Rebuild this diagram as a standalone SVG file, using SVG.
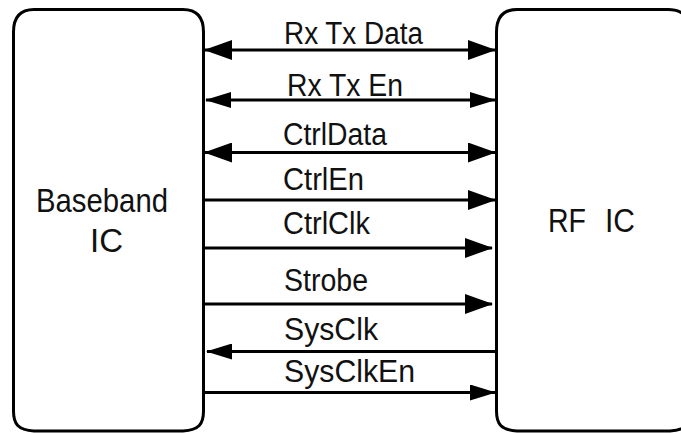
<svg xmlns="http://www.w3.org/2000/svg" width="681" height="433" viewBox="0 0 681 433">
  <style>
    .box { fill: #ffffff; stroke: #000000; stroke-width: 3; }
    .wire { stroke: #000000; stroke-width: 3; fill: none; }
    .lbl { font-family: "Liberation Sans", Arial, sans-serif; font-size: 31px; fill: #111111; }
    .name { font-family: "Liberation Sans", Arial, sans-serif; font-size: 33px; fill: #111111; }
  </style>
  <defs>
    <marker id="head" markerUnits="userSpaceOnUse" markerWidth="28" markerHeight="20" refX="27" refY="10" orient="auto-start-reverse">
      <path d="M0,0 L28,10 L0,20 Z" fill="#000000"/>
    </marker>
    <marker id="headSmall" markerUnits="userSpaceOnUse" markerWidth="26" markerHeight="16" refX="25" refY="8" orient="auto-start-reverse">
      <path d="M0,0 L26,8 L0,16 Z" fill="#000000"/>
    </marker>
  </defs>

  <!-- Baseband IC block -->
  <g id="baseband">
    <path class="box" d="M13.5,32 C13.5,17 20,9.5 34,9.5 L183,9.5 C197,9.5 203.5,17 203.5,32 L203.5,411 C203.5,424 199,430 183,431 L34,431 C18,430 13.5,424 13.5,411 Z"/>
    <text class="name" x="36" y="212" textLength="132" lengthAdjust="spacingAndGlyphs">Baseband</text>
    <text class="name" x="90" y="252" textLength="33" lengthAdjust="spacingAndGlyphs">IC</text>
  </g>

  <!-- RF IC block (extends past the right edge) -->
  <g id="rfic">
    <path class="box" d="M496.5,32 C496.5,17 503,9.5 517,9.5 L668,9.5 C682,9.5 690,17 690,32 L690,411 C690,424 686,430 670,431 L517,431 C501,430 496.5,424 496.5,411 Z"/>
    <text class="name" x="548" y="232" textLength="38" lengthAdjust="spacingAndGlyphs">RF</text>
    <text class="name" x="605" y="232" textLength="30" lengthAdjust="spacingAndGlyphs">IC</text>
  </g>

  <!-- Signal connectors -->
  <g id="connectors">
    <line class="wire" x1="205" y1="50" x2="495" y2="50" marker-start="url(#head)" marker-end="url(#head)"/>
    <line class="wire" x1="206" y1="100" x2="495" y2="100" marker-start="url(#headSmall)" marker-end="url(#headSmall)"/>
    <line class="wire" x1="205" y1="152.5" x2="495" y2="152.5" marker-start="url(#head)" marker-end="url(#head)"/>
    <line class="wire" x1="203" y1="200" x2="495" y2="200" marker-end="url(#head)"/>
    <line class="wire" x1="203" y1="248" x2="492" y2="248" marker-end="url(#head)"/>
    <line class="wire" x1="203" y1="304" x2="492" y2="304" marker-end="url(#head)"/>
    <line class="wire" x1="496" y1="351.5" x2="207" y2="351.5" marker-end="url(#headSmall)"/>
    <line class="wire" x1="203" y1="392.5" x2="495" y2="392.5" marker-end="url(#headSmall)"/>
  </g>

  <!-- Signal names -->
  <g id="labels">
    <text class="lbl" x="284" y="44" textLength="139" lengthAdjust="spacingAndGlyphs">Rx Tx Data</text>
    <text class="lbl" x="287" y="96" textLength="116" lengthAdjust="spacingAndGlyphs">Rx Tx En</text>
    <text class="lbl" x="283" y="145" textLength="104" lengthAdjust="spacingAndGlyphs">CtrlData</text>
    <text class="lbl" x="283" y="190" textLength="81" lengthAdjust="spacingAndGlyphs">CtrlEn</text>
    <text class="lbl" x="283" y="234" textLength="87" lengthAdjust="spacingAndGlyphs">CtrlClk</text>
    <text class="lbl" x="284" y="291" textLength="84" lengthAdjust="spacingAndGlyphs">Strobe</text>
    <text class="lbl" x="284" y="340" textLength="94" lengthAdjust="spacingAndGlyphs">SysClk</text>
    <text class="lbl" x="284" y="382" textLength="131" lengthAdjust="spacingAndGlyphs">SysClkEn</text>
  </g>
</svg>
